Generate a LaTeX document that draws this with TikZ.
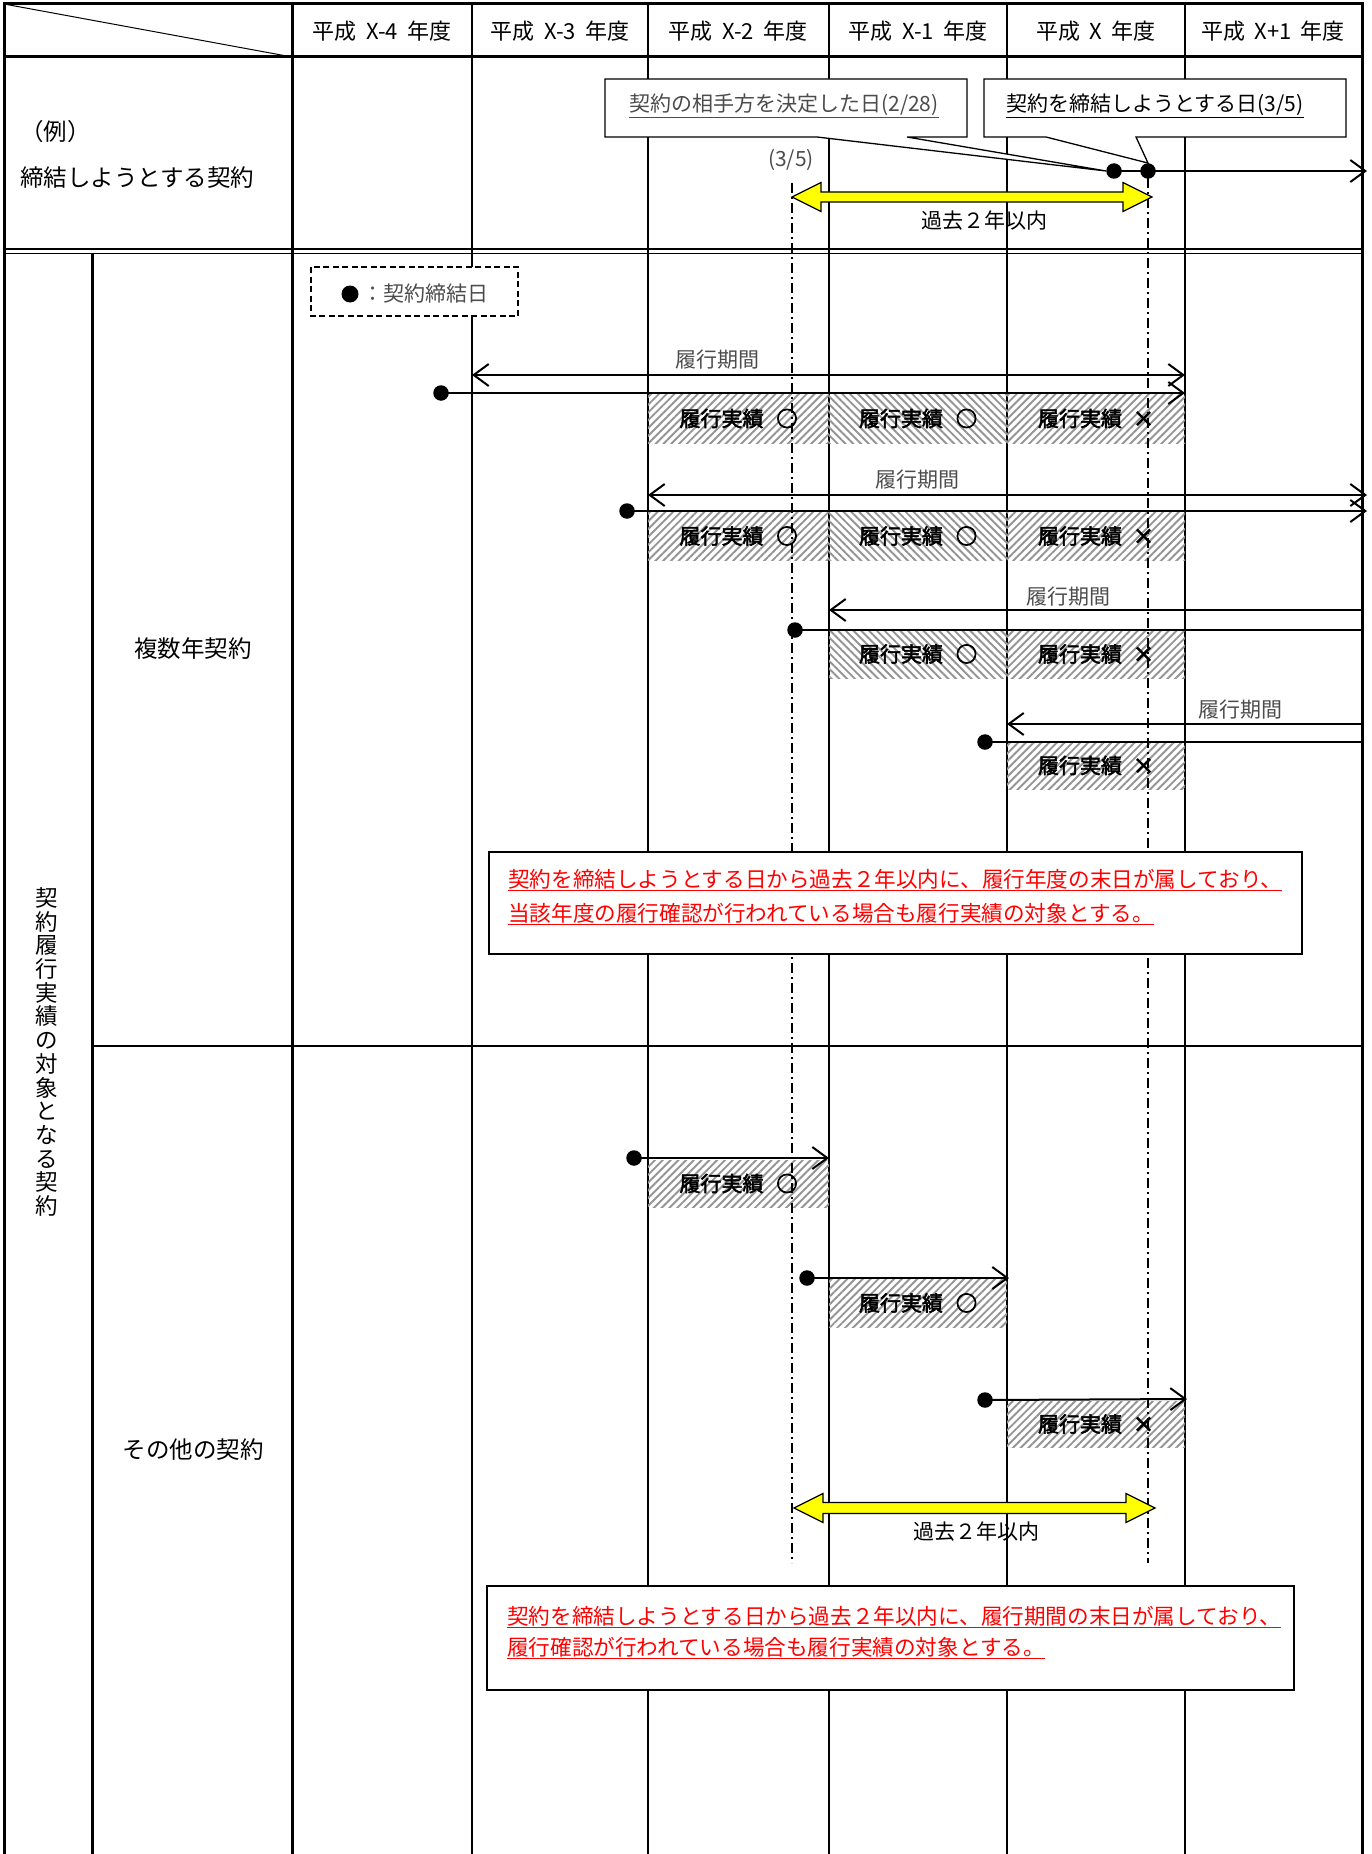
\documentclass[tikz,border=0pt]{standalone}
\usepackage{fontspec}
\setmainfont{Noto Sans CJK JP}
\newfontfamily\jpbold[FakeBold=2.5]{Noto Sans CJK JP}
\newfontfamily\jpheavy[FakeBold=4.5]{Noto Sans CJK JP}
\usetikzlibrary{arrows.meta,patterns.meta}
\definecolor{hatchgray}{gray}{0.58}
\definecolor{redtext}{RGB}{255,0,0}
\definecolor{yel}{RGB}{255,255,0}
\definecolor{graytext}{gray}{0.3}
\newcommand{\okmark}{\hspace{13pt}{\jpheavy ○}}
\newcommand{\ngmark}{\hspace{11pt}{\jpheavy ×}}
\newcommand{\hsp}{\hspace{0.42em}}
\begin{document}
\begin{tikzpicture}[x=1pt,y=-1pt,
  gridthick/.style={line width=3pt},
  gridthin/.style={line width=1.3pt},
  dashdot/.style={line width=1.3pt, dash pattern=on 10pt off 4pt on 2pt off 4pt},
  period/.style={line width=2pt},
  barbL/.style={{Straight Barb[length=15pt,width=22pt]}-},
  barbR/.style={-{Straight Barb[length=15pt,width=22pt]}},
  barbLR/.style={{Straight Barb[length=15pt,width=22pt]}-{Straight Barb[length=15pt,width=22pt]}},
  dotnode/.style={circle, fill=black, inner sep=0pt, minimum size=15.5pt},
  jp/.style={font=\fontsize{21}{25}\selectfont, inner sep=0pt},
  jpbig/.style={font=\fontsize{23.5}{27}\selectfont, inner sep=0pt},
  jpgray/.style={jp, text=graytext},
  hbox/.style={inner sep=0pt, font=\fontsize{21}{25}\selectfont\jpbold},
  hne/.style={hbox, pattern={Lines[angle=45,distance=5.5pt,line width=1.9pt]}, pattern color=hatchgray},
  hnw/.style={hbox, pattern={Lines[angle=-45,distance=5.5pt,line width=1.9pt]}, pattern color=hatchgray},
  callout/.style={fill=white, draw=black, line width=1.3pt},
  notebox/.style={fill=white, draw=black},
  redline/.style={font=\fontsize{21.6}{25}\selectfont, inner sep=0pt, text=redtext, anchor=west},
  yarrow/.style={fill=yel, draw=black, line width=1.2pt, line join=miter},
]
\useasboundingbox (0,0) rectangle (1371,1854);

% ---------------- grid ----------------
\foreach \x in {472,648,829,1007,1185} \draw[gridthin] (\x,4) -- (\x,1854);
\draw[gridthin] (4,249) -- (1362,249);
\draw[gridthin] (4,253.5) -- (1362,253.5);
\draw[gridthin] (92,1046) -- (1362,1046);
\draw[line width=1pt] (4,4) -- (292,57);
\draw[gridthick] (4,4) -- (1362,4);
\draw[gridthick] (4,57) -- (1362,57);
\draw[gridthick] (4,2.5) -- (4,1854);
\draw[gridthick] (1362,2.5) -- (1362,1854);
\draw[gridthick] (292,4) -- (292,1854);
\draw[gridthick] (92,253.5) -- (92,1854);

% ---------------- header ----------------
\node[jp, font=\fontsize{22}{25}\selectfont] (h1) at (382,31) {平成\hsp X-4\hsp 年度};
\node[jp, font=\fontsize{22}{25}\selectfont] (h2) at (560,31) {平成\hsp X-3\hsp 年度};
\node[jp, font=\fontsize{22}{25}\selectfont] (h3) at (738,31) {平成\hsp X-2\hsp 年度};
\node[jp, font=\fontsize{22}{25}\selectfont] (h4) at (918,31) {平成\hsp X-1\hsp 年度};
\node[jp, font=\fontsize{22}{25}\selectfont] (h5) at (1096,31) {平成\hsp X\hsp 年度};
\node[jp, font=\fontsize{22}{25}\selectfont] (h6) at (1273,31) {平成\hsp X+1\hsp 年度};

\node[jpbig, anchor=west] (ex1) at (20,132) {（例）};
\node[jpbig, anchor=west] (ex2) at (20,178) {締結しようとする契約};

\node[jp, font=\fontsize{22.5}{23.7}\selectfont, align=center] (vlab) at (47,1052)
  {契\\約\\履\\行\\実\\績\\の\\対\\象\\と\\な\\る\\契\\約};
\node[jpbig] (multi) at (193,649) {複数年契約};
\node[jpbig] (other) at (193,1450) {その他の契約};

% ---------------- hatched boxes ----------------
\node[hne, minimum width=181pt, minimum height=49pt] (b11) at (738.5,418.5) {履行実績\okmark};
\node[hnw, minimum width=178pt, minimum height=49pt] (b12) at (918,418.5) {履行実績\okmark};
\node[hne, minimum width=178pt, minimum height=49pt] (b13) at (1096,418.5) {履行実績\ngmark};
\node[hne, minimum width=181pt, minimum height=48pt] (b21) at (738.5,536) {履行実績\okmark};
\node[hnw, minimum width=178pt, minimum height=48pt] (b22) at (918,536) {履行実績\okmark};
\node[hne, minimum width=178pt, minimum height=48pt] (b23) at (1096,536) {履行実績\ngmark};
\node[hnw, minimum width=178pt, minimum height=48pt] (b32) at (918,654) {履行実績\okmark};
\node[hne, minimum width=178pt, minimum height=48pt] (b33) at (1096,654) {履行実績\ngmark};
\node[hne, minimum width=178pt, minimum height=47pt] (b43) at (1096,765.5) {履行実績\ngmark};
\node[hne, minimum width=181pt, minimum height=47pt] (bA) at (738.5,1183.5) {履行実績\okmark};
\node[hne, minimum width=178pt, minimum height=48pt] (bB) at (918,1303) {履行実績\okmark};
\node[hne, minimum width=178pt, minimum height=46pt] (bC) at (1096,1424) {履行実績\ngmark};

% ---------------- dash-dot limits ----------------
\coordinate (v1t) at (792,183); \coordinate (v1b) at (792,1563);
\coordinate (v2t) at (1148,178); \coordinate (v2b) at (1148,1563);
\draw[dashdot] (v1t) -- (v1b);
\draw[dashdot] (v2t) -- (v2b);

% ---------------- legend ----------------
\draw[line width=1.5pt, dash pattern=on 6pt off 3.5pt, fill=white] (311,267) rectangle (518,316);
\node[dotnode, minimum size=17pt] (lgdot) at (350,294) {};
\node[jpgray, anchor=west] (lgtxt) at (362,294) {：契約締結日};

% ---------------- example row ----------------
\node[dotnode] (d1) at (1114,171) {};
\node[dotnode] (d2) at (1148,171) {};
\coordinate (dend) at (1367,171);
\draw[period, barbR] (d1.center) -- (dend);
\node[jpgray] (t35) at (791,160) {(3/5)};

\draw[callout] (605,79) -- (967,79) -- (967,137) -- (907,137) -- (d1.west) -- (817,137) -- (605,137) -- cycle;
\draw[callout] (984,79) -- (1346,79) -- (1346,137) -- (1136,137) -- (d2.north) -- (1046,137) -- (984,137) -- cycle;
\node[jpgray] (cb1) at (784,106) {\underline{契約の相手方を決定した日(2/28)}};
\node[jp] (cb2) at (1155,106) {\underline{契約を締結しようとする日(3/5)}};

\coordinate (ya1) at (792,197);
\draw[yarrow] (ya1) -- ++(29,-14.5) -- ++(0,9.5) -- ++(302,0) -- ++(0,-9.5) -- ++(29,14.5)
  -- ++(-29,14.5) -- ++(0,-9.5) -- ++(-302,0) -- ++(0,9.5) -- cycle;
\node[jp] (yt1) at (984,221) {過去２年以内};

% ---------------- multi-year rows ----------------
\coordinate (p1s) at (472,375); \coordinate (p1e) at (1185,375);
\draw[period, barbLR] (p1s) -- (p1e);
\node[dotnode] (c1) at (441,393) {};
\coordinate (c1e) at (1185,393);
\draw[period, barbR] (c1.center) -- (c1e);
\node[jpgray] (k1) at (717,360) {履行期間};

\coordinate (p2s) at (648,495); \coordinate (p2e) at (1367,495);
\draw[period, barbLR] (p2s) -- (p2e);
\node[dotnode] (c2) at (627,511) {};
\coordinate (c2e) at (1367,511);
\draw[period, barbR] (c2.center) -- (c2e);
\node[jpgray] (k2) at (917,480) {履行期間};

\coordinate (p3s) at (829,610); \coordinate (p3e) at (1362,610);
\draw[period, barbL] (p3s) -- (p3e);
\node[dotnode] (c3) at (795,630) {};
\coordinate (c3e) at (1362,630);
\draw[period] (c3.center) -- (c3e);
\node[jpgray] (k3) at (1068,597) {履行期間};

\coordinate (p4s) at (1007,724); \coordinate (p4e) at (1362,724);
\draw[period, barbL] (p4s) -- (p4e);
\node[dotnode] (c4) at (985,742) {};
\coordinate (c4e) at (1362,742);
\draw[period] (c4.center) -- (c4e);
\node[jpgray] (k4) at (1240,710) {履行期間};

% ---------------- note box 1 ----------------
\draw[notebox, line width=1.5pt] (489,852) rectangle (1302,954);
\node[redline] (n1a) at (508,880) {\underline{契約を締結しようとする日から過去２年以内に、履行年度の末日が属しており、}};
\node[redline] (n1b) at (508,914) {\underline{当該年度の履行確認が行われている場合も履行実績の対象とする。}};

% ---------------- other contracts ----------------
\node[dotnode] (oA) at (634,1158) {};
\coordinate (oAe) at (829,1158);
\draw[period, barbR] (oA.center) -- (oAe);
\node[dotnode] (oB) at (807,1278) {};
\coordinate (oBe) at (1009,1278);
\draw[period, barbR] (oB.center) -- (oBe);
\node[dotnode] (oC) at (985,1400) {};
\coordinate (oCe) at (1187,1399);
\draw[period, barbR] (oC.center) -- (oCe);

\coordinate (ya2) at (794,1508);
\draw[yarrow] (ya2) -- ++(29,-14.5) -- ++(0,9) -- ++(303,0) -- ++(0,-9) -- ++(29,14.5)
  -- ++(-29,14.5) -- ++(0,-9) -- ++(-303,0) -- ++(0,9) -- cycle;
\node[jp] (yt2) at (976,1532) {過去２年以内};

% ---------------- note box 2 ----------------
\draw[notebox, line width=2pt] (487,1586) rectangle (1294,1690);
\node[redline] (n2a) at (507,1617) {\underline{契約を締結しようとする日から過去２年以内に、履行期間の末日が属しており、}};
\node[redline] (n2b) at (507,1648) {\underline{履行確認が行われている場合も履行実績の対象とする。}};
\end{tikzpicture}
\end{document}
